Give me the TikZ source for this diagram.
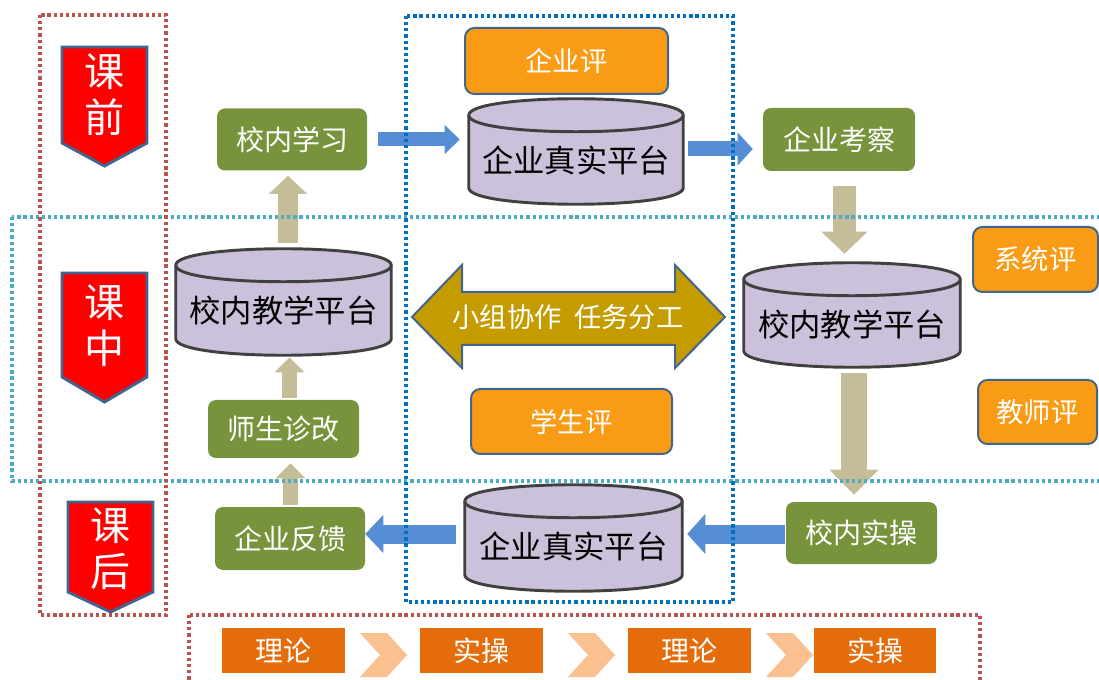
\documentclass[tikz,border=0pt]{standalone}
\usepackage{fontspec}
\newfontfamily\cjk{Noto Sans CJK SC}
\usetikzlibrary{calc,arrows.meta}
\definecolor{grn}{HTML}{77933C}
\definecolor{evalor}{HTML}{F99B14}
\definecolor{edgeblue}{HTML}{41658F}
\definecolor{cylfill}{HTML}{CCC1DA}
\definecolor{cylline}{HTML}{404040}
\definecolor{blueA}{HTML}{558ED5}
\definecolor{tanA}{HTML}{C4BD97}
\definecolor{goldA}{HTML}{C59C00}
\definecolor{redfr}{HTML}{B9514F}
\definecolor{tealfr}{HTML}{4BACC6}
\definecolor{bluefr}{HTML}{0070C0}
\definecolor{ordark}{HTML}{E46C0A}
\definecolor{orlight}{HTML}{FAC090}
\newcommand\pxu{0.75pt}
\newcommand\cylr{16.5}
% database cylinder drawn around an (invisible) node
\newcommand\dbcyl[1]{%
  \filldraw[cylshape]
    ($(#1.north west)+(0,\cylr)$) -- ($(#1.south west)+(0,-\cylr)$)
    .. controls ($(#1.south west)+(0,{0.333*\cylr})$) and ($(#1.south east)+(0,{0.333*\cylr})$) .. ($(#1.south east)+(0,-\cylr)$)
    -- ($(#1.north east)+(0,\cylr)$)
    .. controls ($(#1.north east)+(0,{-0.333*\cylr})$) and ($(#1.north west)+(0,{-0.333*\cylr})$) .. ($(#1.north west)+(0,\cylr)$)
    -- cycle;
  \draw[cylshape, fill=none]
    ($(#1.north west)+(0,\cylr)$)
    .. controls ($(#1.north west)+(0,{2.333*\cylr})$) and ($(#1.north east)+(0,{2.333*\cylr})$) .. ($(#1.north east)+(0,\cylr)$);
}
\begin{document}
\begin{tikzpicture}[x=0.75pt,y=-0.75pt,
  greenbox/.style={fill=grn, rounded corners=6pt, text=white, font=\cjk\fontsize{21}{24}\selectfont, inner sep=0pt},
  evalbox/.style={fill=evalor, draw=edgeblue, line width=1.5pt, rounded corners=7pt, text=white, font=\cjk\fontsize{20.5}{24}\selectfont, inner sep=0pt},
  cylbox/.style={inner sep=0pt},
  cyltext/.style={font=\cjk\fontsize{23.5}{26}\selectfont, text=black, inner sep=0pt},
  cylshape/.style={fill=cylfill, draw=cylline, line width=2.2pt},
  bannershape/.style={fill=red, draw=edgeblue, line width=2.2pt, line join=miter},
  bannertext/.style={text=white, align=center, font=\cjk\fontsize{30}{34.5}\selectfont, inner sep=0pt},
  stepbox/.style={fill=ordark, text=white, font=\cjk\fontsize{21}{24}\selectfont, inner sep=0pt, minimum width=123*\pxu, minimum height=45*\pxu},
  chevron/.style={fill=orlight},
  fat/.style n args={4}{draw=#1, line width=#2, -{Triangle[width=#3, length=#4, line width=0pt]}},
  dotframe/.style={draw=#1, line width=2.6pt, dash pattern=on 2.4pt off 2.2pt},
]
\useasboundingbox (0,0) rectangle (1099,680);

% stage banners
\filldraw[bannershape] (62,47) -- (147,47) -- (147,143) -- (104.5,166) -- (62,143) -- cycle;
\node[bannertext] (kq) at (104.5,95) {课\\前};
\filldraw[bannershape] (62,273) -- (147,273) -- (147,377) -- (104.5,402) -- (62,377) -- cycle;
\node[bannertext] (kz) at (104.5,326) {课\\中};
\filldraw[bannershape] (68,502) -- (153,502) -- (153,592) -- (110.5,612) -- (68,592) -- cycle;
\node[bannertext] (kh) at (110.5,549) {课\\后};

% green activity boxes
\node[greenbox, minimum width=150*\pxu, minimum height=62*\pxu] (g1) at (292,139.5) {校内学习};
\node[greenbox, minimum width=152*\pxu, minimum height=63*\pxu] (g2) at (839,139.5) {企业考察};
\node[greenbox, minimum width=151*\pxu, minimum height=58*\pxu] (g3) at (283.5,429) {师生诊改};
\node[greenbox, minimum width=150*\pxu, minimum height=63*\pxu] (g4) at (290,538.5) {企业反馈};
\node[greenbox, minimum width=151*\pxu, minimum height=62*\pxu] (g5) at (861.5,533) {校内实操};

% evaluation boxes
\node[evalbox, minimum width=203*\pxu, minimum height=66*\pxu] (e1) at (566.5,61) {企业评};
\node[evalbox, minimum width=125*\pxu, minimum height=65*\pxu] (e2) at (1035.5,259.5) {系统评};
\node[evalbox, minimum width=119*\pxu, minimum height=64*\pxu] (e3) at (1037.5,412) {教师评};
\node[evalbox, minimum width=201*\pxu, minimum height=65*\pxu] (e4) at (571.5,421.5) {学生评};

% platforms
\node[cylbox, minimum width=214*\pxu, minimum height=105*\pxu] (cT) at (576,151.5) {};
\dbcyl{cT}
\node[cyltext] (cTt) at (576,160) {企业真实平台};
\node[cylbox, minimum width=215*\pxu, minimum height=106*\pxu] (cL) at (283.5,302) {};
\dbcyl{cL}
\node[cyltext] (cLt) at (283.5,311) {校内教学平台};
\node[cylbox, minimum width=216*\pxu, minimum height=104*\pxu] (cR) at (852,315) {};
\dbcyl{cR}
\node[cyltext] (cRt) at (852,325) {校内教学平台};
\node[cylbox, minimum width=217*\pxu, minimum height=106*\pxu] (cB) at (573.5,538) {};
\dbcyl{cB}
\node[cyltext] (cBt) at (573.5,546) {企业真实平台};

% group work double arrow
\filldraw[fill=goldA, draw=edgeblue, line width=1.5pt]
  (412,317) -- (462,265) -- (462,292) -- (675,292) -- (675,265) -- (725,317)
  -- (675,368) -- (675,345) -- (462,345) -- (462,368) -- cycle;
\node[text=white, font=\cjk\fontsize{20.5}{24}\selectfont] (collab) at (568,317) {小组协作\hspace{0.45em}任务分工};

% blue flow arrows
\draw[fat={blueA}{10.5pt}{21.75pt}{11.25pt}] ($(g1.east)+(11,0)$) -- ($(g1.east -| cT.west)+(-9,0)$);
\draw[fat={blueA}{11.25pt}{24.75pt}{11.25pt}] ($(cT.east)+(5,-2.5)$) -- ($(cT.east -| g2.west)+(-10,-2.5)$);
\draw[fat={blueA}{14.25pt}{30pt}{13.5pt}] ($(g5.west)+(-1,1)$) -- ($(g5.west -| cB.east)+(5,1)$);
\draw[fat={blueA}{14.25pt}{28.5pt}{13.5pt}] ($(cB.west)+(-9,-4)$) -- ($(cB.west -| g4.east)+(0,-4)$);

% tan flow arrows
\draw[fat={tanA}{15pt}{28.5pt}{13.5pt}] ($(cL.north)+(4.5,-6)$) -- ($(g1.south)+(-4,5)$);
\draw[fat={tanA}{11.25pt}{22.5pt}{11.25pt}] ($(g3.north)+(6,-2)$) -- ($(cL.south)+(6,2)$);
\draw[fat={tanA}{11.25pt}{22.5pt}{11.25pt}] ($(g4.north)+(0.5,-2)$) -- ($(g3.south)+(7,5)$);
\draw[fat={tanA}{17.25pt}{34.5pt}{16.5pt}] ($(g2.south)+(5.5,15)$) -- ($(cR.north)+(-7.5,-9)$);
\draw[fat={tanA}{19.5pt}{36.75pt}{18.75pt}] ($(cR.south)+(2,6)$) -- ($(g5.north)+(-7.5,-7)$);

% theory / practice sequence
\node[stepbox] (b1) at (283.5,650.5) {理论};
\node[stepbox] (b2) at (481.5,650.5) {实操};
\node[stepbox] (b3) at (689.5,650.5) {理论};
\node[stepbox, minimum width=122*\pxu] (b4) at (875,650.5) {实操};
\foreach \cx in {360,568,766}{
  \fill[chevron] (\cx,633) -- (\cx+27,633) -- (\cx+47,655) -- (\cx+27,677) -- (\cx,677) -- (\cx+20,655) -- cycle;
}

% dotted phase frames
\draw[dotframe=tealfr] (12,217) rectangle (1120,481);
\draw[dotframe=redfr] (40,15) rectangle (166,615);
\draw[dotframe=bluefr] (406,16) rectangle (733,602);
\draw[dotframe=redfr] (189,615) rectangle (980,700);
\end{tikzpicture}
\end{document}
